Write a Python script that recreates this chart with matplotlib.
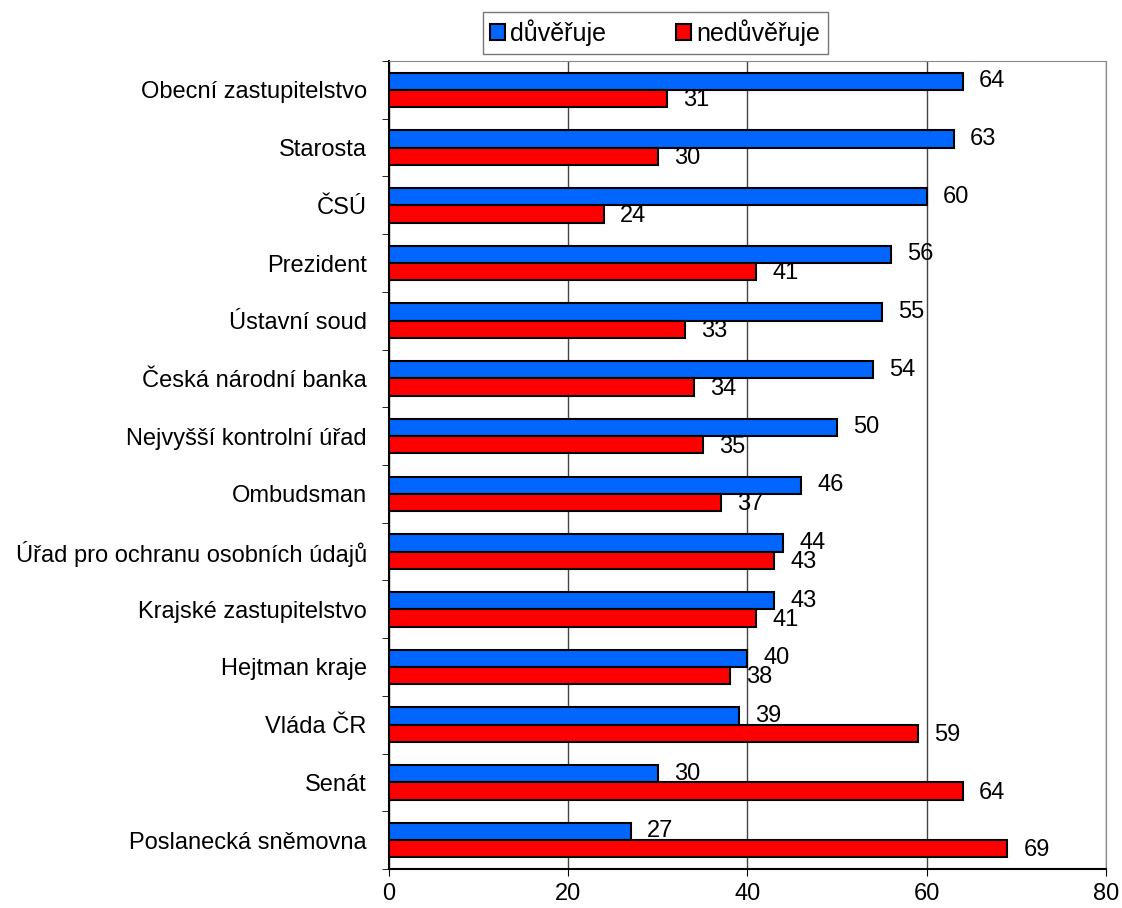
import numpy as np
import matplotlib.pyplot as plt
from matplotlib.patches import Patch

plt.rcParams['font.family'] = ['Liberation Sans', 'DejaVu Sans']

categories = ['Obecní zastupitelstvo', 'Starosta', 'ČSÚ', 'Prezident', 'Ústavní soud',
              'Česká národní banka', 'Nejvyšší kontrolní úřad', 'Ombudsman',
              'Úřad pro ochranu osobních údajů', 'Krajské zastupitelstvo', 'Hejtman kraje',
              'Vláda ČR', 'Senát', 'Poslanecká sněmovna']
duveruje = [64, 63, 60, 56, 55, 54, 50, 46, 44, 43, 40, 39, 30, 27]
neduveruje = [31, 30, 24, 41, 33, 34, 35, 37, 43, 41, 38, 59, 64, 69]

blue = '#0066ff'
red = '#ff0000'

fig = plt.figure(figsize=(11.22, 9.08), dpi=100)
ax = fig.add_axes([0.3467, 0.043, 0.639, 0.8898])

y = np.arange(len(categories))
h = 0.3
ax.barh(y - h / 2, duveruje, height=h, color=blue, edgecolor='black', linewidth=1.5, zorder=3)
ax.barh(y + h / 2, neduveruje, height=h, color=red, edgecolor='black', linewidth=1.5, zorder=3)

for i in range(len(categories)):
    ax.text(duveruje[i] + 1.8, y[i] - h / 2, str(duveruje[i]), va='center', ha='left', fontsize=17, zorder=4)
    ax.text(neduveruje[i] + 1.8, y[i] + h / 2 + 0.03, str(neduveruje[i]), va='center', ha='left', fontsize=17, zorder=4)

ax.set_ylim(len(categories) - 0.5, -0.5)
ax.set_xlim(0, 80)
ax.set_xticks([0, 20, 40, 60, 80])
ax.tick_params(axis='x', labelsize=17, length=5, direction='out', pad=5)
ax.set_yticks(y)
ax.set_yticklabels(categories, fontsize=17)
ax.set_yticks(np.arange(-0.5, len(categories), 1), minor=True)
ax.tick_params(axis='y', which='major', length=0, pad=16)
ax.tick_params(axis='y', which='minor', length=5, direction='out')

ax.grid(axis='x', color='#444444', linewidth=1, zorder=0)
for side in ['top', 'right']:
    ax.spines[side].set_color('#888888')
for side in ['left', 'bottom']:
    ax.spines[side].set_color('black')
    ax.spines[side].set_linewidth(1.5)

handles = [Patch(facecolor=blue, edgecolor='black', linewidth=1.5, label='důvěřuje'),
           Patch(facecolor=red, edgecolor='black', linewidth=1.5, label='nedůvěřuje')]
leg = fig.legend(handles=handles, loc='center', bbox_to_anchor=(0.584, 0.964), ncol=2,
                 fontsize=18, frameon=True, fancybox=False, handlelength=0.6, handleheight=0.6,
                 handletextpad=0.2, columnspacing=2.8, borderpad=0.3, borderaxespad=0)
leg.get_frame().set_edgecolor('#555555')
leg.get_frame().set_linewidth(1)

fig.savefig('out.png', dpi=100)
